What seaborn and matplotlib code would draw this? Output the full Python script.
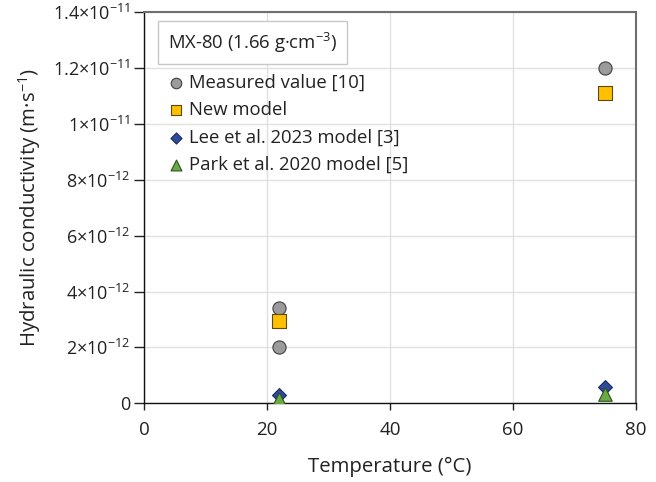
import matplotlib
matplotlib.use('Agg')
import matplotlib.pyplot as plt
import seaborn as sns
import pandas as pd
import numpy as np

# data
temperature = [22, 22, 75]
measured = [3.4e-12, 2.0e-12, 1.2e-11]
temp_model = [22, 75]
new_model = [2.95e-12, 1.11e-11]
lee_model = [0.3e-12, 0.58e-12]
park_model = [0.15e-12, 0.35e-12]

series_names = ['Measured value [10]', 'New model', 'Lee et al. 2023 model [3]', 'Park et al. 2020 model [5]']
x_ticks = [0, 20, 40, 60, 80]
y_ticks = [0, 2e-12, 4e-12, 6e-12, 8e-12, 1e-11, 1.2e-11, 1.4e-11]
y_tick_labels = ['0', '2×10$^{-12}$', '4×10$^{-12}$', '6×10$^{-12}$', '8×10$^{-12}$',
                 '1×10$^{-11}$', '1.2×10$^{-11}$', '1.4×10$^{-11}$']

df = pd.concat([
    pd.DataFrame({'T': temperature, 'K': measured, 'series': series_names[0]}),
    pd.DataFrame({'T': temp_model, 'K': new_model, 'series': series_names[1]}),
    pd.DataFrame({'T': temp_model, 'K': lee_model, 'series': series_names[2]}),
    pd.DataFrame({'T': temp_model, 'K': park_model, 'series': series_names[3]}),
])

sns.set_theme(style='whitegrid')
plt.rcParams['font.family'] = ['Open Sans', 'DejaVu Sans']
plt.rcParams['mathtext.fontset'] = 'custom'
plt.rcParams['mathtext.rm'] = 'Open Sans'
plt.rcParams['mathtext.it'] = 'Open Sans'
plt.rcParams['mathtext.default'] = 'regular'

styles = {
    series_names[0]: dict(marker='o', color='#9b9b9b', edgecolor='#404040', s=90),
    series_names[1]: dict(marker='s', color='#ffc000', edgecolor='#5a4a10', s=90),
    series_names[2]: dict(marker='D', color='#2e4a9e', edgecolor='#1a2a5a', s=50),
    series_names[3]: dict(marker='^', color='#6aaa45', edgecolor='#2f4f20', s=95),
}

fig, ax = plt.subplots(figsize=(6.56, 4.82), dpi=100)
fig.subplots_adjust(left=0.2195, right=0.9695, bottom=0.1633, top=0.9745)

for name in series_names:
    st = styles[name]
    sns.scatterplot(data=df[df['series'] == name], x='T', y='K', ax=ax,
                    marker=st['marker'], color=st['color'], edgecolor=st['edgecolor'],
                    s=st['s'], linewidth=0.8, label=name, zorder=3)

ax.set_xlim(0, 80)
ax.set_ylim(0, 1.4e-11)
ax.set_xticks(x_ticks)
ax.set_yticks(y_ticks)
ax.set_yticklabels(y_tick_labels)
ax.tick_params(axis='both', colors='#222222', direction='out', width=1)
ax.tick_params(axis='x', length=5, pad=8, labelsize=13.5)
ax.tick_params(axis='y', length=7, pad=3, labelsize=13)
ax.xaxis.set_ticks_position('bottom')
ax.yaxis.set_ticks_position('left')
ax.grid(True, color='#e0e0e0', linewidth=1)

for side in ['left', 'bottom']:
    ax.spines[side].set_color('#111111')
    ax.spines[side].set_linewidth(1)
for side in ['top', 'right']:
    ax.spines[side].set_color('#6e6e6e')
    ax.spines[side].set_linewidth(1.5)

ax.set_xlabel('Temperature (°C)', fontsize=14.7, color='#222222', labelpad=13)
ax.set_ylabel('Hydraulic conductivity (m·s$^{-1}$)', fontsize=14.7, color='#222222', labelpad=7)

ax.text(0.049, 0.922, 'MX-80 (1.66 g·cm$^{-3}$)', transform=ax.transAxes, fontsize=13.3,
        color='#222222', va='center', ha='left', zorder=4,
        bbox=dict(boxstyle='square,pad=0.52', facecolor='white', edgecolor='#c8c8c8', linewidth=1))

leg = ax.legend(loc='upper left', bbox_to_anchor=(0.028, 0.862), frameon=False, fontsize=13.3,
                handletextpad=0.1, labelspacing=0.51, borderaxespad=0, handlelength=1.2,
                markerscale=0.8)
for t in leg.get_texts():
    t.set_color('#222222')

fig.savefig('out.png', dpi=100)
